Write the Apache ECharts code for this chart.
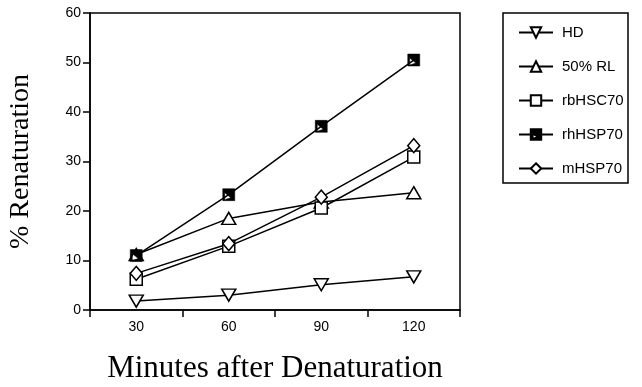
<!DOCTYPE html>
<html><head><meta charset="utf-8">
<script src="https://cdn.jsdelivr.net/npm/echarts@6/dist/echarts.min.js"></script>
<style>html,body{margin:0;padding:0;background:#fff}#c{width:642px;height:387px}</style>
</head><body><div id="c"></div>
<script>
var categories = ['30', '60', '90', '120'];
var yTicks = [0, 10, 20, 30, 40, 50, 60];
var seriesNames = ['HD', '50% RL', 'rbHSC70', 'rhHSP70', 'mHSP70'];
var HD = [1.8, 3.0, 5.1, 6.7];
var RL50 = [11.2, 18.5, 21.8, 23.7];
var rbHSC70 = [6.2, 12.9, 20.6, 30.9];
var rhHSP70 = [11.0, 23.3, 37.1, 50.5];
var mHSP70 = [7.4, 13.4, 22.8, 33.2];

var halfSquare = 'path://M0 0 L12 0 L12 12 L0 12 Z M2 4 L2 11 L8 9 Z';
var common = {
  type: 'line',
  lineStyle: { color: '#000', width: 1.5 },
  itemStyle: { color: '#fff', borderColor: '#000', borderWidth: 1.5 },
  emphasis: { disabled: true },
  animation: false
};
function mk(name, data, extra) {
  return Object.assign({}, common, { name: name, data: data, showSymbol: true }, extra);
}
var chart = echarts.init(document.getElementById('c'));
chart.setOption({
  backgroundColor: '#fff',
  animation: false,
  grid: { left: 90, right: 182, top: 13, bottom: 77, show: true, borderColor: '#000', borderWidth: 1.5,
    backgroundColor: 'transparent', containLabel: false, outerBoundsMode: 'none' },
  xAxis: {
    type: 'category', data: categories, boundaryGap: true,
    axisLine: { lineStyle: { color: '#000', width: 1.5 } },
    axisTick: { show: true, length: 7, lineStyle: { color: '#000', width: 1.5 } },
    axisLabel: { color: '#000', fontSize: 14, fontFamily: 'Liberation Sans', margin: 10 },
    name: 'Minutes after Denaturation', nameLocation: 'middle', nameGap: 43,
    nameTextStyle: { fontFamily: 'Liberation Serif', fontSize: 31, color: '#000' }
  },
  yAxis: {
    type: 'value', min: 0, max: 60, interval: 10,
    axisLine: { show: true, lineStyle: { color: '#000', width: 1.5 } },
    axisTick: { show: true, length: 7, lineStyle: { color: '#000', width: 1.5 } },
    splitLine: { show: false },
    axisLabel: { color: '#000', fontSize: 14, fontFamily: 'Liberation Sans', margin: 9,
      formatter: function (v) { return yTicks.indexOf(v) >= 0 ? String(v) : ''; } },
    name: '% Renaturation', nameLocation: 'middle', nameGap: 55, nameRotate: 90,
    nameTextStyle: { fontFamily: 'Liberation Serif', fontSize: 28, color: '#000' }
  },
  legend: {
    orient: 'vertical', left: 513, top: 20,
    itemWidth: 34, itemHeight: 13, itemGap: 19,
    data: seriesNames,
    textStyle: { fontFamily: 'Liberation Sans', fontSize: 15, color: '#000', padding: [0, 0, 0, 4] },
    selectedMode: false
  },
  graphic: [{ type: 'rect', shape: { x: 503, y: 13, width: 125, height: 170 }, style: { fill: 'none', stroke: '#000', lineWidth: 1.5 } }],
  series: [
    mk(seriesNames[0], HD, { symbol: 'triangle', symbolSize: [14, 12], symbolRotate: 180 }),
    mk(seriesNames[1], RL50, { symbol: 'triangle', symbolSize: [14, 12] }),
    mk(seriesNames[2], rbHSC70, { symbol: 'rect', symbolSize: 12 }),
    mk(seriesNames[3], rhHSP70, { symbol: halfSquare, symbolSize: 12, symbolKeepAspect: true, itemStyle: { color: '#000', borderColor: '#000', borderWidth: 0.5 } }),
    mk(seriesNames[4], mHSP70, { symbol: 'diamond', symbolSize: [12, 14] })
  ]
});
</script></body></html>
